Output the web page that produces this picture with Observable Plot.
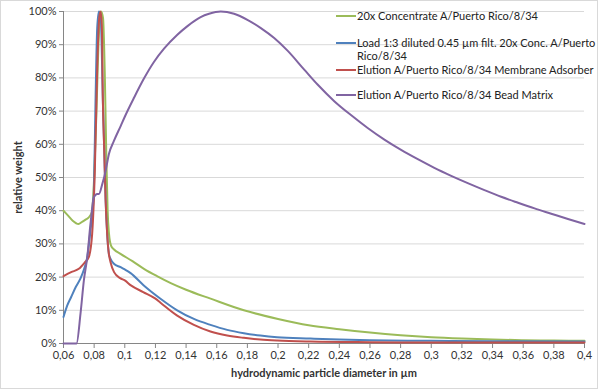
<!DOCTYPE html>
<html>
<head>
<meta charset="utf-8">
<script src="https://cdn.jsdelivr.net/npm/d3@7"></script>
<script src="https://cdn.jsdelivr.net/npm/@observablehq/plot@0.6"></script>
<style>
  html, body { margin: 0; padding: 0; background: #fff; }
  #wrap { position: relative; width: 600px; height: 392px; font-family: Lato, "Liberation Sans", sans-serif; }
  #frame { position: absolute; left: 0; top: 0; width: 596px; height: 387px; border: 1px solid #d9d9d9; pointer-events: none; }
  #legend { position: absolute; left: 336px; top: 0; font-size: 11px; color: #222; }
  .li { position: absolute; left: 0; white-space: nowrap; line-height: 13px; }
  .sw { position: absolute; left: 0; width: 20px; height: 2px; }
  .tx { position: absolute; left: 21px; }
  svg text { font-family: Lato, "Liberation Sans", sans-serif; }
  g[aria-label="x-axis label"] text, g[aria-label="y-axis label"] text { font-weight: bold; }
</style>
</head>
<body>
<div id="wrap">
  <div id="chart"></div>
  <div id="legend"></div>
  <div id="frame"></div>
</div>
<script>
// ---- Data ----
const seriesNames = [
  "20x Concentrate A/Puerto Rico/8/34",
  "Load 1:3 diluted 0.45 µm filt. 20x Conc. A/Puerto Rico/8/34",
  "Elution A/Puerto Rico/8/34 Membrane Adsorber",
  "Elution A/Puerto Rico/8/34 Bead Matrix"
];
const seriesColors = ["#9bbb59", "#4f81bd", "#c0504d", "#8064a2"];

const greenX = [0.06, 0.063, 0.066, 0.0698, 0.072, 0.0744, 0.0765, 0.0785, 0.080, 0.0815, 0.083, 0.0845, 0.0858, 0.087, 0.088, 0.0888, 0.0897, 0.091, 0.093, 0.0972, 0.105, 0.1125, 0.121, 0.13, 0.14, 0.156, 0.1777, 0.2, 0.22, 0.24, 0.26, 0.28, 0.3, 0.32, 0.34, 0.36, 0.38, 0.4];
const greenY = [40, 38.5, 37, 36, 36.6, 37.3, 38, 39.5, 50, 70, 92, 100, 98, 80, 55, 40, 33, 29.5, 28.3, 27, 24.8, 22.5, 20.3, 18.2, 16.2, 13.5, 10, 7.4, 5.5, 4.3, 3.3, 2.5, 1.9, 1.5, 1.2, 1.0, 0.9, 0.8];

const blueX = [0.06, 0.0624, 0.065, 0.068, 0.0711, 0.0735, 0.0755, 0.0776, 0.079, 0.0798, 0.0809, 0.082, 0.0831, 0.0842, 0.0857, 0.0866, 0.0875, 0.0885, 0.0896, 0.0907, 0.0929, 0.0973, 0.1, 0.1038, 0.1124, 0.1233, 0.1342, 0.1451, 0.1559, 0.1668, 0.1777, 0.1885, 0.1994, 0.2212, 0.24, 0.26, 0.3, 0.34, 0.4];
const blueY = [8, 11.4, 14, 17, 19.6, 22.5, 26, 34, 40, 45, 73, 95, 100, 99, 73, 58, 43, 33, 27, 25.5, 24, 23, 22.3, 21.2, 17.5, 13.5, 10, 7.4, 5.6, 4.1, 3.1, 2.4, 1.9, 1.5, 1.2, 1.0, 0.8, 0.7, 0.6];

const redX = [0.06, 0.065, 0.07, 0.074, 0.0765, 0.0787, 0.0805, 0.082, 0.0833, 0.0842, 0.085, 0.0857, 0.0866, 0.0875, 0.0885, 0.0896, 0.0907, 0.093, 0.097, 0.1, 0.104, 0.112, 0.12, 0.1233, 0.1342, 0.1451, 0.1559, 0.1668, 0.1777, 0.1885, 0.1994, 0.2212, 0.26, 0.3, 0.4];
const redY = [20.3, 21.5, 22.5, 24.5, 26, 33, 53, 83, 98, 100, 96, 73, 58, 43, 33, 27, 24.5, 21.5, 19.7, 19, 17.5, 15.5, 13.5, 12.3, 8.4, 5.6, 3.6, 2.4, 1.7, 1.2, 0.9, 0.6, 0.4, 0.3, 0.3];

const purpleX = [0.06, 0.0685, 0.0711, 0.0733, 0.0755, 0.0776, 0.0798, 0.082, 0.0831, 0.0853, 0.0875, 0.0896, 0.0929, 0.0973, 0.1, 0.106, 0.1125, 0.119, 0.1256, 0.1343, 0.1409, 0.1495, 0.155, 0.1626, 0.1713, 0.18, 0.1888, 0.1975, 0.2062, 0.2171, 0.2258, 0.2367, 0.2476, 0.2585, 0.2694, 0.2803, 0.2912, 0.302, 0.313, 0.3238, 0.3347, 0.3456, 0.3566, 0.3674, 0.3783, 0.3892, 0.4];
const purpleY = [0, 0, 9, 19, 26, 36, 44, 45, 45, 48, 52, 57, 61, 65.5, 68.3, 74, 79.8, 84.8, 88.8, 93, 95.6, 98.3, 99.3, 100, 99.3, 97.5, 95, 92, 88.2, 82.5, 78, 73, 68.8, 64.9, 61.4, 58.3, 55.5, 52.9, 50.5, 48.3, 46.2, 44.2, 42.4, 40.7, 39.1, 37.5, 36];

const xTicks = [0.06, 0.08, 0.1, 0.12, 0.14, 0.16, 0.18, 0.2, 0.22, 0.24, 0.26, 0.28, 0.3, 0.32, 0.34, 0.36, 0.38, 0.4];
const yTicks = [0, 0.1, 0.2, 0.3, 0.4, 0.5, 0.6, 0.7, 0.8, 0.9, 1];

// ---- Build table ----
const xsAll = [greenX, blueX, redX, purpleX];
const ysAll = [greenY, blueY, redY, purpleY];
const rows = [];
xsAll.forEach((xs, s) => xs.forEach((x, i) => rows.push({x, y: ysAll[s][i] / 100, series: seriesNames[s]})));
const peakRows = rows.filter(r => r.series !== seriesNames[3]);
const beadRows = rows.filter(r => r.series === seriesNames[3]);

const fmtX = d => String(d).replace(".", ",");

const chart = Plot.plot({
  width: 600,
  height: 392,
  marginLeft: 63,
  marginRight: 16,
  marginTop: 11,
  marginBottom: 49,
  style: {fontSize: "11px", color: "#333", background: "transparent", overflow: "visible"},
  x: {domain: [0.06, 0.4]},
  y: {domain: [0, 1]},
  color: {domain: seriesNames, range: seriesColors},
  marks: [
    Plot.gridY(yTicks, {stroke: "#d9d9d9", strokeOpacity: 1}),
    Plot.axisY(yTicks, {tickFormat: d3.format(".0%"), tickSize: 4, tickPadding: 3, stroke: "#868686",
      label: "relative weight", labelAnchor: "center", labelArrow: "none", labelOffset: 49, fill: "#333"}),
    Plot.axisX(xTicks, {tickFormat: fmtX, tickSize: 5, tickPadding: 3, stroke: "#868686",
      label: "hydrodynamic particle diameter in µm", labelAnchor: "center", labelArrow: "none", labelOffset: 33, fill: "#333"}),
    Plot.ruleX([0.06], {stroke: "#868686"}),
    Plot.ruleY([0], {stroke: "#868686"}),
    Plot.line(peakRows, {x: "x", y: "y", z: "series", stroke: "series", strokeWidth: 2, curve: "monotone-x"}),
    Plot.line(beadRows, {x: "x", y: "y", z: "series", stroke: "series", strokeWidth: 2, curve: "monotone-x"})
  ]
});
document.getElementById("chart").appendChild(chart);

// ---- Legend ----
const legendLayout = [
  {top: 16, lines: ["20x Concentrate A/Puerto Rico/8/34"]},
  {top: 43, lines: ["Load 1:3 diluted 0.45 µm filt. 20x Conc. A/Puerto", "Rico/8/34"]},
  {top: 70, lines: ["Elution A/Puerto Rico/8/34 Membrane Adsorber"]},
  {top: 95, lines: ["Elution A/Puerto Rico/8/34 Bead Matrix"]}
];
const lg = document.getElementById("legend");
legendLayout.forEach((e, i) => {
  const item = document.createElement("div");
  item.className = "li";
  item.style.top = (e.top - 7) + "px";
  const sw = document.createElement("div");
  sw.className = "sw";
  sw.style.top = "6px";
  sw.style.background = seriesColors[i];
  const tx = document.createElement("div");
  tx.className = "tx";
  tx.innerHTML = e.lines.join("<br>");
  item.appendChild(sw);
  item.appendChild(tx);
  lg.appendChild(item);
});
</script>
</body>
</html>
